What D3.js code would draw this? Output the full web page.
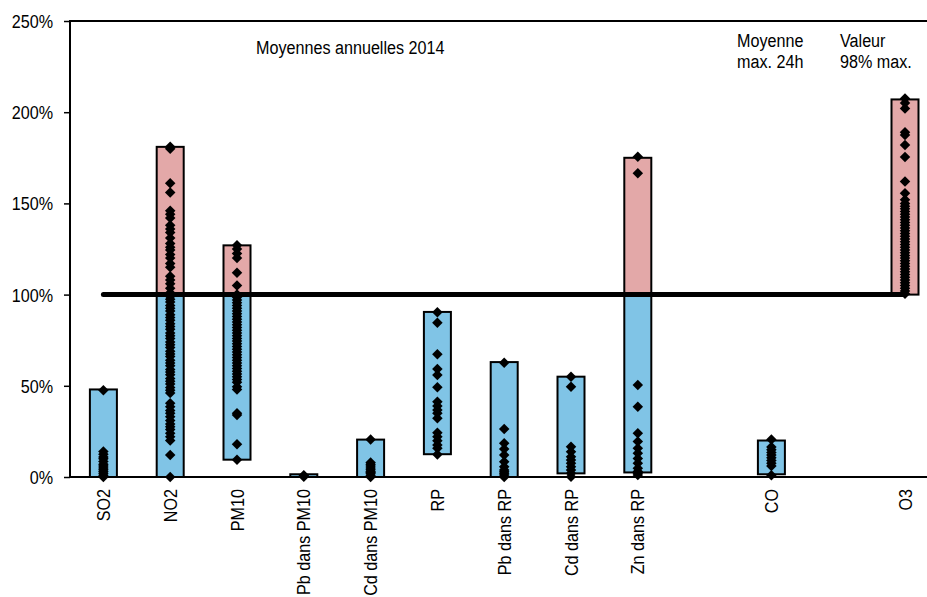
<!DOCTYPE html>
<html><head><meta charset="utf-8">
<script src="https://cdn.jsdelivr.net/npm/d3@7"></script>
<style>body{margin:0;background:#fff;overflow:hidden} text{font-family:"Liberation Sans",Arial,sans-serif;fill:#000}</style>
</head><body><svg id="c" width="927" height="597"></svg>
<script>
// ---- data ----
const slots = ["SO2","NO2","PM10","Pb dans PM10","Cd dans PM10","RP","Pb dans RP","Cd dans RP","Zn dans RP","gap1","CO","gap2","O3"];
const categories = ["SO2","NO2","PM10","Pb dans PM10","Cd dans PM10","RP","Pb dans RP","Cd dans RP","Zn dans RP","CO","O3"];
const barMin = [0, 0, 9.5, 0, 0, 12.5, 0, 2, 2.5, 1.5, 100];
const barMax = [48, 181, 127, 1.5, 20.5, 90.5, 63, 55, 175, 20, 207];
const limitValue = 100;
const yTicks = [0, 50, 100, 150, 200, 250];

const ptsSO2 = [47.5, 14, 12.5, 11, 10, 8.5, 7, 6, 5, 4, 3, 2, 1, 0];
const ptsNO2 = [181, 180, 161, 156, 146, 144, 142, 138, 136, 134, 131, 128, 126, 124.5, 122, 120, 117, 115, 110, 108, 106, 103.5, 101,
  99, 97.5, 96, 94, 92.5, 91, 89, 87.5, 86, 84, 82.5, 81, 79, 77.5, 76, 74, 72.5, 71, 69, 67.5, 66, 64, 62.5, 61, 59, 57.5, 56, 54, 52.5, 51, 49, 47.5, 46,
  40.5, 38.5, 36.5, 35, 33, 31, 29, 27.5, 26, 24, 22, 20, 12, 0];
const ptsPM10 = [127, 125, 122.5, 120, 112, 105, 100, 98.5, 97, 95.5, 94, 92.5, 91, 89.5, 88, 86.5, 85, 83.5, 82, 80.5, 79, 77.5, 76, 74.5, 73,
  71.5, 70, 68.5, 67, 65.5, 64, 62.5, 61, 59.5, 58, 56.5, 55, 53.5, 52, 49.5, 48, 35, 34, 18, 9.5];
const ptsPbPM10 = [1, 0.5, 0.2];
const ptsCdPM10 = [20.5, 8, 7, 6, 5, 4, 3, 2.5, 2, 1, 0];
const ptsRP = [90.3, 84.6, 67.3, 59.2, 55.9, 49.2, 41.3, 38.9, 36.7, 34.9, 32.2, 24.3, 22.1, 19.9, 17.5, 15.7, 12.4];
const ptsPbRP = [62.7, 26.3, 18.5, 15.4, 12, 8.4, 5.6, 3.8, 2.9, 2, 1.1, 0];
const ptsCdRP = [55, 49.5, 16.6, 13.9, 11.1, 9.3, 7.5, 5.6, 3.8, 2, 0.2];
const ptsZnRP = [175.6, 166.5, 50.4, 38.5, 24, 19.4, 15.7, 13, 10.2, 7.5, 4.8, 3, 2, 1.1];
const ptsCO = [20.5, 16.5, 15, 13.5, 12, 10.5, 9, 7.5, 6, 1];
const ptsO3 = [207.5, 205, 202, 189, 187.5, 182, 175.5, 162, 155.5, 152, 150, 148.5, 147, 145.5, 144, 142.5, 141, 139.5, 138, 136.5, 135,
  133.5, 132, 130.5, 129, 127.5, 126, 124.5, 123, 121.5, 120, 118.5, 117, 115.5, 114, 112.5, 111, 109.5, 108, 106.5, 105, 103.5, 102, 100.5];
const points = [ptsSO2, ptsNO2, ptsPM10, ptsPbPM10, ptsCdPM10, ptsRP, ptsPbRP, ptsCdRP, ptsZnRP, ptsCO, ptsO3];

const annotations = [
  {lines: ["Moyennes annuelles 2014"], x: 256, y: 54},
  {lines: ["Moyenne", "max. 24h"], x: 737, y: 47},
  {lines: ["Valeur", "98% max."], x: 840, y: 47}
];

// ---- drawing ----
const svg = d3.select("#c");
const plotLeft = 70, plotTop = 21, plotBottom = 477, step = 66.8;
const FS = 19, SX = 0.85;
const blue = "#80C4E6", pink = "#E3A8A8";

const x = d3.scaleBand().domain(slots).range([plotLeft, plotLeft + step * slots.length]).padding(0);
const y = d3.scaleLinear().domain([0, 250]).range([plotBottom, plotTop]);
const cx = c => x(c) + x.bandwidth() / 2;
const barW = 27;

// bars
const bars = svg.append("g");
categories.forEach((c, i) => {
  const lo = barMin[i], hi = barMax[i];
  if (lo < limitValue) {
    const t = Math.min(hi, limitValue);
    bars.append("rect").attr("x", cx(c) - barW/2).attr("y", y(t)).attr("width", barW).attr("height", y(lo) - y(t))
      .attr("fill", blue).attr("stroke", "#000").attr("stroke-width", 2);
  }
  if (hi > limitValue) {
    const b = Math.max(lo, limitValue);
    bars.append("rect").attr("x", cx(c) - barW/2).attr("y", y(hi)).attr("width", barW).attr("height", y(b) - y(hi))
      .attr("fill", pink).attr("stroke", "#000").attr("stroke-width", 2);
  }
});

// axes frame
svg.append("line").attr("x1", plotLeft).attr("x2", 927).attr("y1", plotTop).attr("y2", plotTop).attr("stroke", "#000").attr("stroke-width", 2);
svg.append("line").attr("x1", plotLeft).attr("x2", 927).attr("y1", plotBottom).attr("y2", plotBottom).attr("stroke", "#000").attr("stroke-width", 2);
svg.append("line").attr("x1", plotLeft).attr("x2", plotLeft).attr("y1", plotTop - 1).attr("y2", plotBottom + 1).attr("stroke", "#000").attr("stroke-width", 2);

const yAxis = svg.append("g").attr("transform", `translate(${plotLeft},0)`)
  .call(d3.axisLeft(y).tickValues(yTicks).tickFormat(d => d + "%").tickSize(6).tickPadding(11));
yAxis.select(".domain").remove();
yAxis.selectAll(".tick line").attr("stroke", "#000").attr("stroke-width", 1.5);
yAxis.selectAll(".tick text").each(function() {
  const t = d3.select(this);
  const xx = +t.attr("x");
  t.attr("x", null).attr("dy", "0.34em").attr("font-size", FS).attr("font-family", null).attr("transform", `translate(${xx},0) scale(${SX},1)`);
});
yAxis.attr("font-family", null);

// x labels
const xl = svg.append("g");
categories.forEach(c => {
  xl.append("text").attr("transform", `translate(${cx(c)},489) rotate(-90) scale(${SX},1)`)
    .attr("text-anchor", "end").attr("dy", "0.35em").attr("font-size", FS).text(c);
});

// 100% line
svg.append("line").attr("x1", cx(categories[0])).attr("x2", cx(categories[categories.length - 1]))
  .attr("y1", y(limitValue)).attr("y2", y(limitValue)).attr("stroke", "#000").attr("stroke-width", 5).attr("stroke-linecap", "round");

// diamonds
const sym = d3.symbol().type(d3.symbolSquare).size(55);
const dots = svg.append("g");
categories.forEach((c, i) => {
  points[i].forEach(v => {
    dots.append("path").attr("d", sym()).attr("transform", `translate(${cx(c)},${y(v)}) rotate(45)`).attr("fill", "#000");
  });
});

// annotations
annotations.forEach(a => {
  a.lines.forEach((l, j) => {
    svg.append("text").attr("transform", `translate(${a.x},${a.y + j * 21}) scale(${SX},1)`).attr("font-size", FS).text(l);
  });
});
</script></body></html>
